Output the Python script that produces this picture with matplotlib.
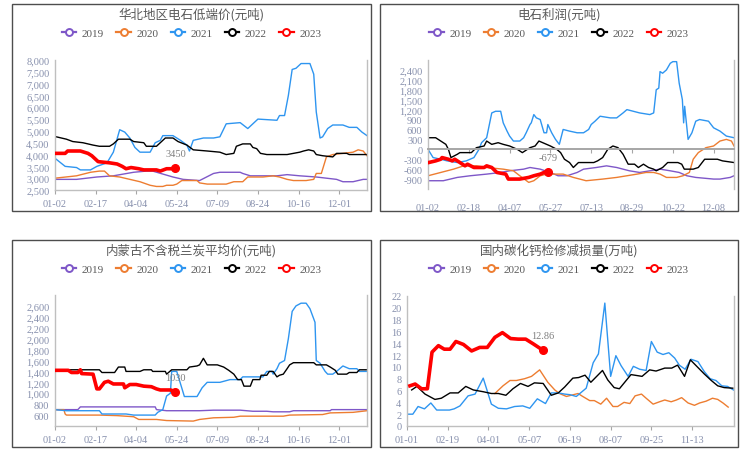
import matplotlib
matplotlib.use('Agg')
import matplotlib.pyplot as plt
from matplotlib.lines import Line2D
from matplotlib.patches import Rectangle

plt.rcParams['font.family'] = ['Noto Sans CJK SC', 'DejaVu Sans']

years = ['2019', '2020', '2021', '2022', '2023']
colors = ['#7E57C8', '#ED7D31', '#2E95F0', '#000000', '#FF0000']

# ---- panel 1: 华北地区电石低端价 (x = trading-day index)
hb_labels = ['01-02', '02-17', '04-04', '05-24', '07-09', '08-24', '10-16', '12-01']
hb_x19 = [0, 17, 33, 46, 62, 72, 77, 93, 101, 114, 125, 130, 146, 148, 154, 175, 183, 193, 206, 214, 222, 227, 235, 243, 246]
hb_y19 = [2950, 2950, 3050, 3100, 3250, 3300, 3300, 3050, 2950, 2900, 3200, 3250, 3250, 3200, 3100, 3100, 3150, 3100, 3050, 3000, 2950, 2850, 2850, 2950, 2950]
hb_x20 = [0, 17, 28, 35, 39, 43, 51, 59, 67, 75, 80, 85, 88, 93, 96, 100, 112, 114, 120, 135, 141, 148, 152, 164, 172, 177, 183, 188, 198, 204, 206, 210, 214, 219, 227, 235, 239, 243, 246]
hb_y20 = [3000, 3100, 3250, 3300, 3300, 3100, 3050, 2950, 2850, 2700, 2650, 2650, 2700, 2700, 2750, 2900, 2900, 2800, 2750, 2750, 2850, 2850, 3050, 3050, 3100, 3050, 2950, 2900, 2900, 2950, 3200, 3200, 3900, 4000, 4050, 4100, 4200, 4150, 3950]
hb_x21 = [1, 8, 17, 20, 28, 33, 41, 46, 51, 55, 59, 63, 67, 75, 79, 83, 85, 93, 99, 104, 106, 109, 117, 125, 130, 135, 146, 152, 156, 160, 175, 177, 181, 184, 187, 190, 194, 201, 204, 206, 209, 211, 215, 219, 227, 232, 238, 242, 246]
hb_y21 = [3800, 3500, 3450, 3350, 3350, 3500, 3650, 4100, 5050, 4950, 4700, 4300, 4100, 4100, 4500, 4600, 4800, 4800, 4600, 4400, 4150, 4600, 4700, 4700, 4750, 5300, 5350, 5100, 5300, 5500, 5450, 5650, 5650, 6500, 7600, 7650, 7850, 7850, 7400, 5800, 4700, 4750, 5100, 5250, 5250, 5150, 5150, 4950, 4800]
hb_x22 = [1, 9, 14, 22, 30, 35, 43, 46, 50, 59, 62, 70, 72, 80, 84, 87, 93, 97, 104, 109, 120, 130, 135, 141, 143, 148, 154, 156, 159, 162, 167, 183, 188, 193, 196, 200, 204, 206, 211, 219, 222, 230, 232, 246]
hb_y22 = [4750, 4650, 4550, 4500, 4400, 4350, 4350, 4450, 4650, 4650, 4550, 4500, 4350, 4350, 4550, 4700, 4700, 4550, 4400, 4200, 4150, 4100, 4000, 4050, 4350, 4450, 4450, 4300, 4250, 4050, 4000, 4000, 4050, 4100, 4150, 4200, 4150, 4000, 3950, 3900, 4050, 4050, 4000, 4000]
hb_x23 = [1, 8, 10, 20, 26, 29, 34, 43, 49, 53, 56, 60, 66, 70, 80, 83, 88, 92, 95]
hb_y23 = [4050, 4050, 4150, 4150, 4050, 3950, 3700, 3650, 3600, 3500, 3400, 3450, 3400, 3350, 3350, 3300, 3400, 3400, 3450]

# ---- panel 2: 电石利润
lr_labels = ['01-02', '02-18', '04-07', '05-27', '07-13', '08-29', '10-22', '12-08']
lr_x19 = [0, 12, 23, 33, 46, 57, 64, 75, 80, 88, 96, 102, 109, 117, 122, 132, 140, 148, 158, 166, 174, 182, 190, 197, 203, 210, 224, 229, 237, 240]
lr_y19 = [-950, -950, -850, -800, -750, -700, -650, -600, -550, -600, -700, -800, -800, -700, -600, -550, -500, -550, -650, -700, -650, -600, -650, -700, -800, -850, -900, -900, -850, -800]
lr_x20 = [0, 10, 20, 28, 38, 46, 59, 67, 72, 79, 83, 88, 93, 106, 114, 124, 137, 148, 156, 164, 171, 177, 182, 187, 195, 200, 205, 208, 212, 216, 218, 224, 229, 234, 238, 240]
lr_y20 = [-800, -700, -600, -500, -500, -550, -600, -650, -800, -1000, -950, -800, -750, -750, -850, -950, -900, -850, -800, -750, -700, -700, -750, -850, -850, -800, -700, -300, -100, 0, 50, 100, 250, 300, 250, 100]
lr_x21 = [0, 4, 10, 15, 23, 30, 36, 40, 42, 46, 50, 53, 57, 59, 62, 64, 67, 72, 75, 77, 80, 81, 83, 85, 88, 91, 93, 94, 97, 100, 103, 106, 111, 117, 122, 126, 128, 131, 135, 143, 148, 153, 156, 161, 166, 174, 177, 179, 181, 182, 184, 187, 190, 192, 195, 197, 199.5, 200.5, 201.3, 204, 207, 210, 213, 220, 224, 229, 234, 240]
lr_y21 = [0, -250, -300, -350, -400, -350, -250, 0, 200, 350, 1100, 1150, 1150, 800, 550, 400, 250, 250, 350, 500, 750, 800, 1050, 950, 900, 500, 500, 750, 500, 300, 150, 600, 550, 500, 500, 600, 750, 850, 1000, 950, 950, 1100, 1200, 1150, 1100, 1050, 1100, 1800, 1850, 2350, 2300, 2400, 2600, 2650, 2650, 2000, 1500, 800, 1300, 300, 500, 850, 900, 850, 650, 550, 400, 350]
lr_x22 = [0, 6, 10, 14, 16, 18, 23, 25, 34, 38, 44, 46, 50, 55, 59, 64, 70, 74, 76, 80, 84, 87, 90, 96, 101, 104, 107, 111, 114, 118, 130, 133, 137, 141, 145, 149, 153, 157, 162, 165, 169, 173, 177, 179, 184, 188, 196, 199, 201, 208, 212, 217, 227, 231, 240]
lr_y22 = [350, 350, 250, 150, 0, -250, -150, -100, -100, 50, 100, 250, 150, 200, 150, 100, 0, -100, -50, 50, 100, 250, 200, 100, 0, -100, -300, -400, -550, -400, -400, -350, -250, 0, 100, 50, -150, -450, -450, -550, -450, -550, -600, -650, -550, -400, -400, -450, -600, -600, -550, -300, -300, -350, -400]
lr_x23 = [0.5, 6, 10, 11, 16, 19, 21, 25, 29, 31, 36, 44, 46, 50, 54, 61, 63, 72, 79, 83, 88, 91, 94]
lr_y23 = [-400, -350, -300, -250, -300, -350, -300, -400, -500, -450, -550, -550, -500, -550, -700, -750, -900, -900, -850, -800, -750, -700, -679]

# ---- panel 3: 内蒙古不含税兰炭平均价
lt_labels = ['01-02', '02-17', '04-04', '05-24', '07-09', '08-24', '10-16', '12-01']
lt_x19 = [0, 18, 20, 79, 80, 88, 114, 125, 146, 156, 167, 172, 185, 188, 217, 218, 246]
lt_y19 = [700, 700, 750, 750, 700, 680, 680, 690, 690, 670, 670, 660, 660, 680, 680, 700, 700]
lt_x20 = [0, 7, 8, 9, 35, 49, 62, 66, 80, 88, 109, 114, 125, 141, 146, 180, 185, 211, 217, 235, 246]
lt_y20 = [700, 700, 620, 600, 600, 590, 570, 520, 520, 500, 490, 520, 550, 560, 580, 580, 600, 610, 640, 650, 680]
lt_x21 = [0, 9, 35, 37, 56, 62, 79, 81, 85, 88, 91, 92, 96, 102, 112, 116, 120, 130, 138, 146, 148, 164, 167, 171, 172, 175, 177, 181, 184, 187, 190, 194, 198, 201, 205, 206, 209, 213, 215, 219, 222, 227, 232, 238, 240, 246]
lt_y21 = [700, 680, 680, 620, 620, 600, 600, 650, 700, 950, 1000, 1400, 1400, 940, 940, 1100, 1200, 1200, 1250, 1250, 1300, 1300, 1400, 1400, 1350, 1450, 1550, 1600, 2000, 2500, 2600, 2650, 2650, 2550, 2300, 1600, 1550, 1400, 1350, 1350, 1400, 1500, 1450, 1450, 1400, 1400]
lt_x22 = [0, 4, 35, 37, 47, 50, 55, 56, 67, 70, 76, 77, 87, 88, 92, 104, 106, 112, 114, 117, 120, 128, 133, 137, 141, 144, 147, 149, 154, 156, 161.5, 162.5, 167, 169, 172, 175, 177, 180, 183, 185, 188, 204, 206, 214, 217, 221, 223, 230, 232, 238, 240, 246]
lt_y22 = [1400, 1430, 1430, 1380, 1380, 1480, 1480, 1400, 1400, 1430, 1430, 1400, 1400, 1350, 1430, 1430, 1480, 1500, 1520, 1640, 1520, 1520, 1480, 1420, 1350, 1250, 1250, 1130, 1130, 1250, 1250, 1330, 1330, 1400, 1400, 1300, 1330, 1350, 1450, 1520, 1560, 1560, 1520, 1520, 1480, 1420, 1350, 1350, 1380, 1380, 1430, 1430]
lt_x23 = [0, 10.5, 13, 18, 20, 21, 30, 33, 35, 39, 42, 46, 54, 55, 59, 64, 70, 76, 80, 83, 91, 95]
lt_y23 = [1420, 1420, 1380, 1380, 1430, 1360, 1350, 1080, 1080, 1200, 1220, 1170, 1170, 1100, 1160, 1160, 1130, 1120, 1080, 1060, 1060, 1030]

# ---- panel 4: 国内碳化钙检修减损量 (x = week index)
jx_labels = ['01-01', '02-19', '04-01', '05-07', '06-19', '08-07', '09-25', '11-13']
jx_x19 = []
jx_y19 = []
jx_x20 = [15.1, 16.5, 17.7, 18.8, 20.2, 21.4, 22.8, 24.2, 25.4, 26.2, 27.4, 28.2, 29.4, 30.2, 31.4, 32.2, 33.3, 34.3, 35.4, 36.2, 37.3, 38.3, 39.2, 40.3, 41.1, 42.3, 43.4, 44.3, 45.4, 46.3, 47.2, 48.3, 49.4, 50.3, 51.4, 52.5, 53.4, 54.3, 55.2]
jx_y20 = [5.5, 6.8, 7.7, 7.7, 8.0, 8.4, 9.5, 7.4, 6.1, 5.5, 5.0, 5.2, 5.5, 5.0, 4.3, 4.3, 3.7, 4.7, 3.3, 3.3, 4.0, 3.8, 5.1, 5.4, 4.7, 3.7, 4.1, 4.4, 4.1, 4.4, 4.8, 3.9, 3.5, 3.9, 4.2, 4.7, 4.5, 3.9, 3.2]
jx_x21 = [0, 1, 1.9, 3, 4.1, 5.1, 6.2, 7.3, 8.1, 9.1, 10.5, 11.7, 13.1, 14.5, 15.7, 17.1, 18.5, 19.9, 21.1, 22.4, 23.8, 24.8, 26, 27.1, 28, 29.1, 30.8, 32, 32.9, 34, 35, 35.9, 36.8, 38, 38.9, 40, 41.1, 42, 43, 44, 45, 46, 46.8, 47.8, 48.8, 50, 51.1, 52.1, 53.1, 54.1, 55.1, 56.1]
jx_y21 = [2.0, 2.0, 3.3, 2.9, 3.9, 2.7, 2.7, 2.7, 2.9, 3.4, 5.1, 5.4, 8.1, 3.7, 3.0, 2.9, 3.3, 3.4, 3.0, 4.6, 3.8, 5.6, 5.6, 5.4, 5.3, 5.0, 6.4, 10.7, 12.2, 20.8, 8.4, 11.9, 10.2, 8.4, 10.1, 9.6, 9.4, 14.3, 12.5, 12.1, 12.4, 11.5, 10.3, 9.6, 11.3, 10.9, 9.2, 8.0, 7.7, 6.8, 6.7, 6.1]
jx_x22 = [0.8, 1.7, 3.1, 4.8, 5.9, 7.4, 8.8, 10.1, 11.4, 13.1, 14.5, 15.7, 17, 18.2, 19.5, 20.8, 21.9, 23.4, 24.8, 26, 27.1, 28.5, 29.5, 30.6, 31.6, 33.6, 34.5, 35.6, 36.5, 38.5, 40.4, 41.7, 42.8, 44.3, 45.5, 46.5, 47.7, 48.7, 50, 51.1, 52.3, 53.4, 54.5, 56]
jx_y22 = [6.1, 6.7, 5.4, 4.5, 4.7, 5.6, 5.6, 6.7, 6.1, 5.8, 5.5, 5.5, 5.2, 6.3, 7.2, 6.7, 7.3, 7.2, 5.2, 5.6, 6.6, 8.1, 8.2, 8.6, 7.4, 9.4, 7.8, 6.5, 6.3, 8.7, 8.4, 9.5, 9.3, 9.8, 9.8, 10.3, 8.4, 11.2, 9.9, 8.8, 7.7, 6.8, 6.5, 6.4]
jx_x23 = [0.5, 1.4, 2.5, 3.5, 4.3, 5.4, 6.4, 7.4, 8.4, 9.7, 11.1, 12.5, 13.8, 15.1, 16.4, 17.8, 19.1, 20.4, 21.7, 23.3]
jx_y23 = [6.8, 7.1, 6.3, 6.3, 12.5, 13.6, 13.0, 13.0, 14.3, 13.8, 12.7, 13.3, 13.3, 15.0, 15.8, 14.8, 14.7, 14.7, 13.9, 12.86]

fig = plt.figure(figsize=(7.53, 4.56), dpi=100)
W, H = 753.0, 456.0
tick_color = '#8790ad'
num_font = ['Liberation Serif', 'DejaVu Serif']


def draw_panel(box, axrect, title, title_y, legend_y, xs, ys, ylim, yticks,
               xmax, xstep, xlabels, last_label, comma=True, zero_axis=False):
    # outer frame of the panel (pixel coords -> figure fraction)
    x0, y0, x1, y1 = box
    fig.patches.append(Rectangle((x0 / W, 1 - y1 / H), (x1 - x0) / W, (y1 - y0) / H,
                                 transform=fig.transFigure, fill=False,
                                 edgecolor='#4d4d4d', lw=1.0))
    cx = (x0 + x1) / 2 / W
    fig.text(cx, 1 - title_y / H, title, ha='center', va='center',
             fontsize=9, color='#595959')

    l, t, r, b = axrect
    ax = fig.add_axes([l / W, 1 - b / H, (r - l) / W, (b - t) / H])
    for i in range(5):
        if len(xs[i]) == 0:
            continue
        if i == 4:
            ax.plot(xs[i], ys[i], color=colors[i], lw=2.6, zorder=5)
            ax.plot(xs[i][-1], ys[i][-1], 'o', color=colors[i], ms=5.5, zorder=6)
        else:
            ax.plot(xs[i], ys[i], color=colors[i], lw=1.0)
    ax.annotate(last_label, (xs[4][-1], ys[4][-1]), xytext=(0, 7),
                textcoords='offset points', ha='center', va='bottom',
                fontsize=7.5, color='#7f7f7f', family=num_font)

    ax.spines['top'].set_visible(False)
    for s in ['left', 'right', 'bottom']:
        ax.spines[s].set_color('#bfbfbf')
        ax.spines[s].set_linewidth(1.0)
    if zero_axis:
        # category axis crosses at zero, labels stay at the bottom
        ax.spines['bottom'].set_position(('data', 0))
        ax.spines['bottom'].set_color('#a6a6a6')
        ax.spines['bottom'].set_linewidth(1.4)

    ax.set_xlim(0, xmax)
    ax.set_ylim(*ylim)
    ax.set_xticks(range(0, xstep * len(xlabels), xstep))
    ax.set_xticklabels(xlabels)
    ax.set_yticks(yticks)
    if comma:
        ax.set_yticklabels(['{:,}'.format(v) for v in yticks])
    else:
        ax.set_yticklabels([str(v) for v in yticks])
    for lab in ax.get_xticklabels() + ax.get_yticklabels():
        lab.set_family(num_font)
        lab.set_color(tick_color)
        lab.set_fontsize(7.5)
    ax.tick_params(axis='y', length=0, pad=4)
    ax.tick_params(axis='x', length=3, color='#a6a6a6', width=0.8)
    if zero_axis:
        ax.tick_params(axis='x', pad=36)

    handles = [Line2D([], [], color=colors[i], lw=1.6, marker='o', ms=5,
                      markerfacecolor='white', markeredgewidth=1.4)
               for i in range(5)]
    fig.legend(handles, years, loc='center', bbox_to_anchor=(cx, 1 - legend_y / H),
               ncol=5, frameon=False, handlelength=1.3,
               handletextpad=0.5, columnspacing=1.1,
               labelcolor='#595959', prop={'family': num_font, 'size': 8})
    return ax


draw_panel((12, 5, 371, 212), (55, 61, 367, 191), '华北地区电石低端价(元吨)', 15, 34,
           [hb_x19, hb_x20, hb_x21, hb_x22, hb_x23], [hb_y19, hb_y20, hb_y21, hb_y22, hb_y23],
           (2500, 8000), list(range(2500, 8001, 500)), 246, 32, hb_labels, '3450')

draw_panel((380, 5, 738, 212), (428, 61, 734, 190), '电石利润(元吨)', 15, 34,
           [lr_x19, lr_x20, lr_x21, lr_x22, lr_x23], [lr_y19, lr_y20, lr_y21, lr_y22, lr_y23],
           (-1200, 2700), list(range(-900, 2401, 300)), 240, 32, lr_labels, '-679',
           zero_axis=True)

draw_panel((12, 241, 371, 448), (55, 296, 367, 427), '内蒙古不含税兰炭平均价(元吨)', 251, 270,
           [lt_x19, lt_x20, lt_x21, lt_x22, lt_x23], [lt_y19, lt_y20, lt_y21, lt_y22, lt_y23],
           (400, 2800), list(range(600, 2601, 200)), 246, 32, lt_labels, '1030')

draw_panel((380, 241, 738, 448), (407, 297, 734, 427), '国内碳化钙检修减损量(万吨)', 251, 270,
           [jx_x19, jx_x20, jx_x21, jx_x22, jx_x23], [jx_y19, jx_y20, jx_y21, jx_y22, jx_y23],
           (0, 22), list(range(0, 23, 2)), 56.2, 7, jx_labels, '12.86', comma=False)

fig.savefig('out.png', dpi=100)
